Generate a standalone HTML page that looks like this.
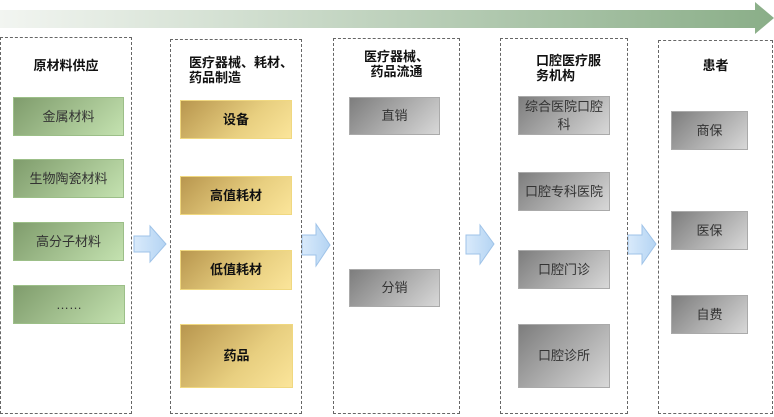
<!DOCTYPE html>
<html><head><meta charset="utf-8"><style>
body{margin:0;width:774px;height:417px;background:#fff;position:relative;overflow:hidden;font-family:"Liberation Sans","Noto Sans CJK SC",sans-serif;}
.col{position:absolute;border:1.5px dashed #666;box-sizing:border-box;}
.b{position:absolute;display:flex;align-items:center;justify-content:center;text-align:center;font-size:13px;color:#333;box-sizing:border-box;line-height:18px;}
.g{background:linear-gradient(135deg,#7f9c6c,#c4e2b0);border:1px solid #9cbf88;}
.y{background:linear-gradient(135deg,#b8964e,#e8cf80 60%,#fbe59a);border:1px solid #f0d880;font-weight:bold;color:#111;}
.s{background:linear-gradient(135deg,#7d7d7d,#d8d8d8);border:1px solid #aaa;}
.t{position:absolute;font-size:13px;font-weight:bold;color:#111;line-height:15px;}
</style></head><body>
<svg style="position:absolute;left:0;top:0" width="774" height="417">
<defs><linearGradient id="ar" x1="0" x2="1"><stop offset="0" stop-color="#f2f5f1"/><stop offset="1" stop-color="#8aae88"/></linearGradient>
<linearGradient id="bl" x1="0" x2="1"><stop offset="0" stop-color="#d9eafb"/><stop offset="1" stop-color="#b4d4f3"/></linearGradient></defs>
<polygon points="0,10 755,10 755,2 774,18 755,34 755,28 0,28" fill="url(#ar)"/>
<g fill="url(#bl)" stroke="#9fc3e8" stroke-width="1">
<polygon points="134,236 150,236 150,226 166,244 150,262 150,252 134,252"/>
<polygon points="302,235 316,235 316,224 330,245 316,266 316,255 302,255"/>
<polygon points="466,235 480,235 480,225 494,244 480,264 480,254 466,254"/>
<polygon points="628,235 642,235 642,225 656,244 642,264 642,254 628,254"/>
</g></svg>
<div class="col" style="left:0;top:37px;width:132px;height:377px"></div>
<div class="col" style="left:170px;top:39px;width:132px;height:375px"></div>
<div class="col" style="left:333px;top:38px;width:127px;height:376px"></div>
<div class="col" style="left:500px;top:38px;width:128px;height:376px"></div>
<div class="col" style="left:658px;top:40px;width:115px;height:374px"></div>

<div class="t" style="left:0;width:132px;text-align:center;top:58px">原材料供应</div>
<div class="t" style="left:189px;top:55px">医疗器械、耗材、<br>药品制造</div>
<div class="t" style="left:333px;width:127px;text-align:center;top:49px">医疗器械、<br>药品流通</div>
<div class="t" style="left:536px;top:53px">口腔医疗服<br>务机构</div>
<div class="t" style="left:658px;width:115px;text-align:center;top:58px">患者</div>

<div class="b g" style="left:13px;top:97px;width:111px;height:39px">金属材料</div>
<div class="b g" style="left:13px;top:159px;width:111px;height:39px">生物陶瓷材料</div>
<div class="b g" style="left:13px;top:222px;width:111px;height:39px">高分子材料</div>
<div class="b g" style="left:13px;top:285px;width:112px;height:39px">……</div>

<div class="b y" style="left:180px;top:100px;width:112px;height:39px">设备</div>
<div class="b y" style="left:180px;top:176px;width:112px;height:39px">高值耗材</div>
<div class="b y" style="left:180px;top:250px;width:112px;height:40px">低值耗材</div>
<div class="b y" style="left:180px;top:324px;width:113px;height:64px">药品</div>

<div class="b s" style="left:349px;top:97px;width:91px;height:38px">直销</div>
<div class="b s" style="left:349px;top:269px;width:91px;height:38px">分销</div>

<div class="b s" style="left:518px;top:96px;width:92px;height:39px">综合医院口腔<br>科</div>
<div class="b s" style="left:518px;top:172px;width:92px;height:39px">口腔专科医院</div>
<div class="b s" style="left:518px;top:250px;width:92px;height:39px">口腔门诊</div>
<div class="b s" style="left:518px;top:324px;width:92px;height:64px">口腔诊所</div>

<div class="b s" style="left:671px;top:111px;width:77px;height:39px">商保</div>
<div class="b s" style="left:671px;top:211px;width:77px;height:39px">医保</div>
<div class="b s" style="left:671px;top:295px;width:77px;height:39px">自费</div>
</body></html>
